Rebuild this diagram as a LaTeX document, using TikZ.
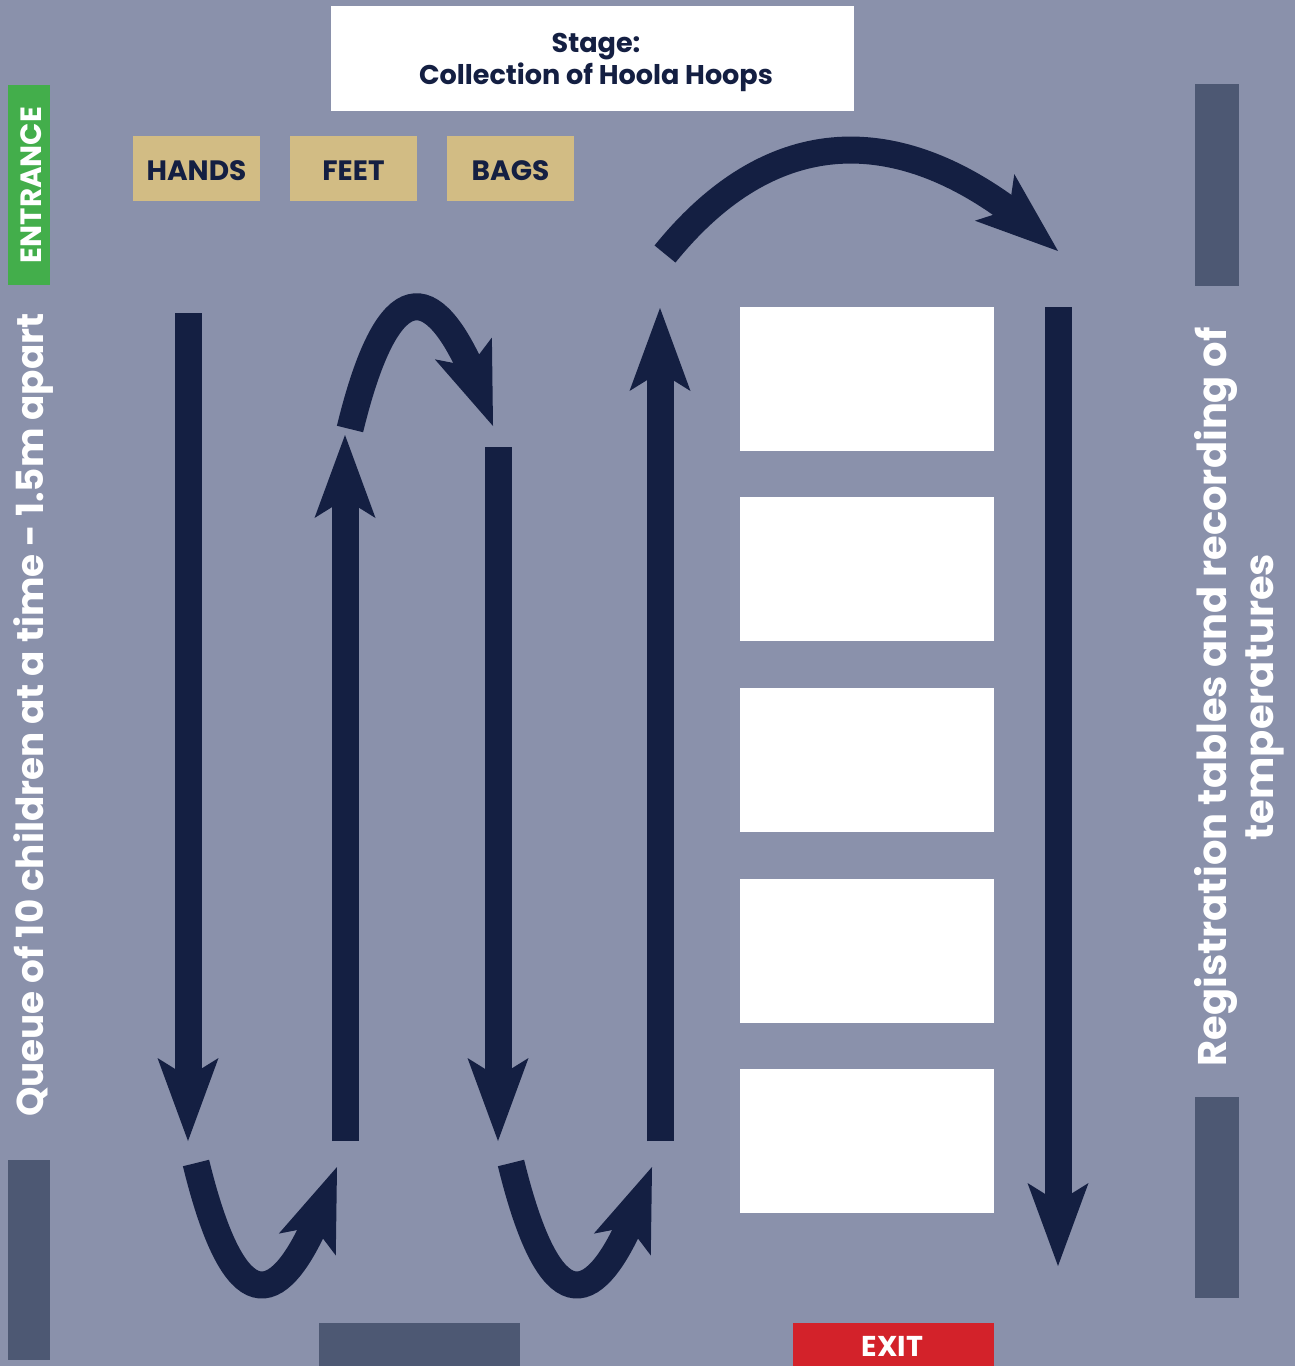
\documentclass[tikz,border=0pt]{standalone}
\usepackage{fontspec}
\setmainfont{Poppins}
\usetikzlibrary{arrows.meta,bending}
\definecolor{bg}{HTML}{8A91AB}
\definecolor{navy}{HTML}{141F42}
\definecolor{bar}{HTML}{4D5873}
\definecolor{entgreen}{HTML}{43AE4B}
\definecolor{tan}{HTML}{D2BC84}
\definecolor{exitred}{HTML}{D3222A}
\begin{document}
\begin{tikzpicture}[x=0.75pt,y=-0.75pt,
  flow/.style={draw=navy,line width=20.25pt,-{Stealth[length=62.25pt,width=45.75pt,inset=14.25pt,line width=0pt]}},
  box/.style={inner sep=0pt,outer sep=0pt},
  station/.style={box,fill=tan,minimum width=95.25pt,minimum height=48.75pt},
  stationtext/.style={text=navy,font=\fontsize{21}{24}\selectfont\bfseries},
  tablebox/.style={box,fill=white,minimum width=190.5pt,minimum height=108pt},
  wallbar/.style={box,fill=bar},
  sidetext/.style={text=white,rotate=90,font=\fontsize{30}{35}\selectfont\bfseries,align=center}]
\fill[bg] (0,0) rectangle (1295,1366);
\useasboundingbox (0,0) rectangle (1295,1366);

% stage
\node[box,fill=white,minimum width=392.25pt,minimum height=78.75pt] (stage) at (592.5,58.5) {};
\node[text=navy,align=center,font=\fontsize{20.3}{24}\selectfont\bfseries] (stagetext) at (596,62) {Stage:\\Collection of Hoola Hoops};

% entrance
\node[box,fill=entgreen,minimum width=31.5pt,minimum height=150pt] (entrance) at (29,185) {};
\node[text=white,rotate=90,font=\fontsize{22}{24}\selectfont\bfseries] (enttext) at (31,185) {ENTRANCE};

% stations
\node[station] (hands) at (196.5,168.5) {};
\node[station] (feet) at (353.5,168.5) {};
\node[station] (bags) at (510.5,168.5) {};
\node[stationtext] (handstext) at (196.5,171) {HANDS};
\node[stationtext] (feettext) at (353.5,171) {FEET};
\node[stationtext] (bagstext) at (510.5,171) {BAGS};

% tables
\node[tablebox] (t1) at (867,379) {};
\node[tablebox] (t2) at (867,569) {};
\node[tablebox] (t3) at (867,760) {};
\node[tablebox] (t4) at (867,951) {};
\node[tablebox] (t5) at (867,1141) {};

% wall bars
\node[wallbar,minimum width=31.5pt,minimum height=150pt] (barbl) at (29,1260) {};
\node[wallbar,minimum width=150.75pt,minimum height=33pt] (barb) at (419.5,1345) {};
\node[wallbar,minimum width=33pt,minimum height=150.75pt] (bartr) at (1217,185) {};
\node[wallbar,minimum width=33pt,minimum height=150.75pt] (barbr) at (1217,1197.5) {};

% exit
\node[box,fill=exitred,minimum width=150.75pt,minimum height=33pt] (exit) at (893.5,1345) {};
\node[text=white,font=\fontsize{21.5}{24}\selectfont\bfseries] (exittext) at (892.5,1346) {EXIT};

% side texts
\node[sidetext,font=\fontsize{28}{33}\selectfont\bfseries] (queue) at (34,715) {Queue of 10 children at a time - 1.5m apart};
\node[sidetext] (reg) at (1239,697) {Registration tables and recording of\\temperatures};

% arrow end points
\coordinate (a1s) at (188,313);  \coordinate (a1e) at (188,1141);
\coordinate (a2s) at (345,1141); \coordinate (a2e) at (345,435);
\coordinate (a3s) at (498,447);  \coordinate (a3e) at (498,1141);
\coordinate (a4s) at (660,1141); \coordinate (a4e) at (660,308);
\coordinate (a5s) at (1058,307); \coordinate (a5e) at (1058,1266);
\coordinate (c1s) at (196,1163); \coordinate (c1e) at (337,1167);
\coordinate (c2s) at (350,429);  \coordinate (c2e) at (493,426);
\coordinate (c3s) at (511,1163); \coordinate (c3e) at (652,1167);
\coordinate (c4s) at (665,254);  \coordinate (c4e) at (1058,251);

\draw[flow] (a1s) -- (a1e);
\draw[flow] (a2s) -- (a2e);
\draw[flow] (a3s) -- (a3e);
\draw[flow] (a4s) -- (a4e);
\draw[flow] (a5s) -- (a5e);
\draw[flow] (c1s) .. controls (236,1326) and (284,1324) .. (c1e);
\draw[flow] (c2s) .. controls (390,265) and (440,268) .. (c2e);
\draw[flow] (c3s) .. controls (551,1326) and (599,1324) .. (c3e);
\draw[flow] (c4s) .. controls (784,107) and (925,125) .. (c4e);
\end{tikzpicture}
\end{document}
